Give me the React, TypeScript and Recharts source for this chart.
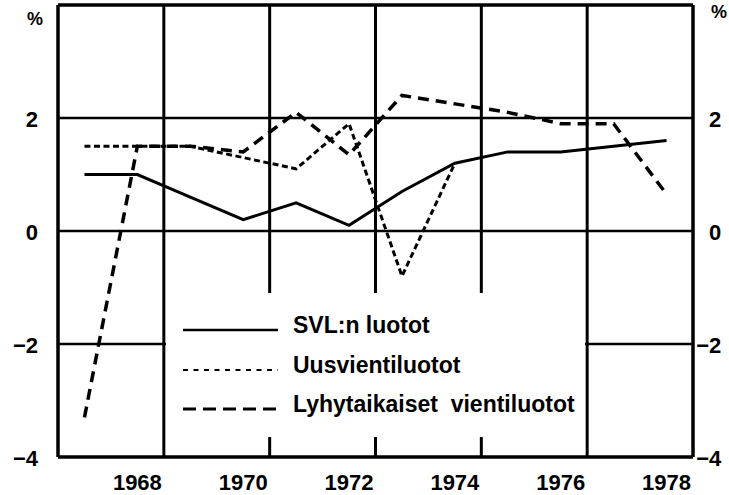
import { Legend, Line, LineChart, ReferenceLine, XAxis, YAxis } from "recharts"

// vuodet ja sarjat, luettu kuvasta (%)
const years = [1967, 1968, 1969, 1970, 1971, 1972, 1973, 1974, 1975, 1976, 1977, 1978]
const svlLuotot = [1.0, 1.0, 0.6, 0.2, 0.5, 0.1, 0.7, 1.2, 1.4, 1.4, 1.5, 1.6]
const uusvientiluotot = [1.5, 1.5, 1.5, 1.3, 1.1, 1.9, -0.8, 1.2, null, null, null, null]
const lyhytaikaiset = [-3.3, 1.5, 1.5, 1.4, 2.1, 1.35, 2.4, 2.25, 2.1, 1.9, 1.9, 0.65]

const xTicks = [1968, 1970, 1972, 1974, 1976, 1978]
const yTicks = [-4, -2, 0, 2, 4]
const gridYears = [1968.5, 1970.5, 1972.5, 1974.5, 1976.5]
const gridValues = [2, 0, -2]

const series = [
  { key: "svl", name: "SVL:n luotot", axis: "right", dash: undefined, width: 3, legendDash: undefined, legendWidth: 2.5 },
  { key: "uus", name: "Uusvientiluotot", axis: "left", dash: "6 3.5", width: 3, legendDash: "5 5.5", legendWidth: 2 },
  { key: "lyhyt", name: "Lyhytaikaiset  vientiluotot", axis: "left", dash: "11 7", width: 3.5, legendDash: "13 7", legendWidth: 3 },
]

const data = years.map((year, i) => ({
  year,
  svl: svlLuotot[i],
  uus: uusvientiluotot[i],
  lyhyt: lyhytaikaiset[i],
}))

const FONT = "'Liberation Sans', Arial, sans-serif"

function LeftTick({ x, y, payload }: any) {
  const v = payload.value
  if (v === 4) {
    return (
      <text x={x - 15} y={y + 20} textAnchor="end" fontFamily={FONT} fontWeight="bold" fontSize={18} fill="#000">
        %
      </text>
    )
  }
  return (
    <text x={x - 20} y={y + 8.5} textAnchor="end" fontFamily={FONT} fontWeight="bold" fontSize={22} fill="#000">
      {v < 0 ? "\u2212" + Math.abs(v) : v}
    </text>
  )
}

function RightTick({ x, y, payload }: any) {
  const v = payload.value
  if (v === 4) {
    return (
      <text x={x + 18} y={y + 13} textAnchor="start" fontFamily={FONT} fontWeight="bold" fontSize={18} fill="#000">
        %
      </text>
    )
  }
  return (
    <g fontFamily={FONT} fontWeight="bold" fontSize={22} fill="#000">
      {v < 0 && (
        <text x={x + 16} y={y + 8.5} textAnchor="end">
          {"\u2212"}
        </text>
      )}
      <text x={x + 16} y={y + 8.5} textAnchor="start">
        {Math.abs(v)}
      </text>
    </g>
  )
}

function YearTick({ x, y, payload }: any) {
  return (
    <text x={x} y={y + 33} textAnchor="middle" fontFamily={FONT} fontWeight="bold" fontSize={22} fill="#000">
      {payload.value}
    </text>
  )
}

function LegendBox({ payload }: any) {
  const rows = [40, 80, 119]
  const items = payload || []
  return (
    <svg width={419} height={144} style={{ display: "block" }}>
      {series.map((s, i) => {
        const entry = items.find((e: any) => e.dataKey === s.key)
        const base = rows[i]
        return (
          <g key={s.key}>
            <line
              x1={17}
              x2={112}
              y1={base - 3}
              y2={base - 3}
              stroke="#000"
              strokeWidth={s.legendWidth}
              strokeDasharray={s.legendDash}
            />
            <text x={127} y={base} fontFamily={FONT} fontWeight="bold" fontSize={23} fill="#000" style={{ whiteSpace: "pre" }}>
              {entry ? entry.value : s.name}
            </text>
          </g>
        )
      })}
    </svg>
  )
}

export default function App() {
  return (
    <div style={{ position: "absolute", left: 0, top: 0, width: 729, height: 495, background: "#fff" }}>
      <LineChart width={729} height={495} data={data} margin={{ top: 5, right: 0, bottom: 0, left: 0 }}>
        {gridYears.map((g) => (
          <ReferenceLine key={"x" + g} x={g} yAxisId="left" stroke="#000" strokeWidth={3} />
        ))}
        {gridValues.map((g) => (
          <ReferenceLine key={"y" + g} y={g} yAxisId="left" stroke="#000" strokeWidth={2.5} />
        ))}
        <ReferenceLine y={4} yAxisId="left" stroke="#000" strokeWidth={3.5} />
        <XAxis
          dataKey="year"
          type="number"
          domain={[1966.5, 1978.5]}
          ticks={xTicks}
          height={38}
          tickSize={0}
          tickMargin={0}
          tickLine={false}
          axisLine={{ stroke: "#000", strokeWidth: 3.5 }}
          tick={<YearTick />}
        />
        <YAxis
          yAxisId="left"
          type="number"
          domain={[-4, 4]}
          ticks={yTicks}
          interval={0}
          width={58}
          tickSize={0}
          tickMargin={0}
          tickLine={false}
          axisLine={{ stroke: "#000", strokeWidth: 3.5 }}
          tick={<LeftTick />}
        />
        <YAxis
          yAxisId="right"
          orientation="right"
          type="number"
          domain={[-4, 4]}
          ticks={yTicks}
          interval={0}
          width={36}
          tickSize={0}
          tickMargin={0}
          tickLine={false}
          axisLine={{ stroke: "#000", strokeWidth: 3.5 }}
          tick={<RightTick />}
        />
        {series.map((s) => (
          <Line
            key={s.key}
            yAxisId={s.axis}
            dataKey={s.key}
            name={s.name}
            type="linear"
            stroke="#000"
            strokeWidth={s.width}
            strokeDasharray={s.dash}
            dot={false}
            activeDot={false}
            isAnimationActive={false}
          />
        ))}
        <Legend
          layout="vertical"
          verticalAlign="middle"
          align="center"
          content={<LegendBox />}
          wrapperStyle={{ left: 166, top: 293, width: 419, height: 144, background: "#fff" }}
        />
      </LineChart>
    </div>
  )
}
